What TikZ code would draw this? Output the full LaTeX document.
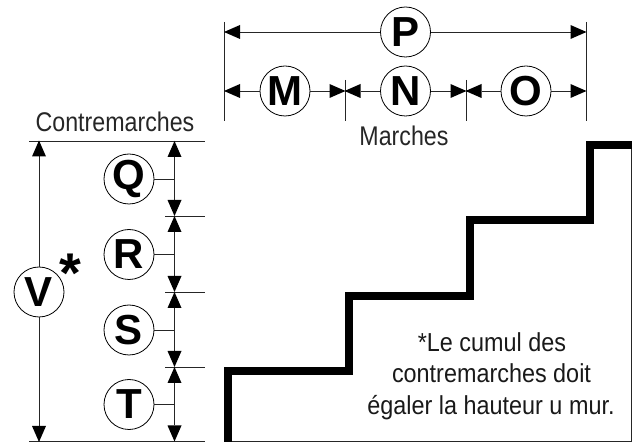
\documentclass[tikz,border=0pt]{standalone}
\usepackage{fontspec}
\setmainfont{Liberation Sans}
\newfontfamily\narrowfont[FakeStretch=0.86]{Liberation Sans}
\newfontfamily\notefont[FakeStretch=0.9]{Liberation Sans}
\usetikzlibrary{arrows.meta}
\tikzset{
  x=1pt,y=-1pt,
  thin line/.style={line width=0.9pt,draw=black!85},
  dim/.style={thin line,arrows={-{Triangle[length=16pt,width=14pt,fill=black,line width=0pt]}},shorten >=-0.5pt},
  dimboth/.style={thin line,arrows={{Triangle[length=16pt,width=14pt,fill=black,line width=0pt]}-{Triangle[length=16pt,width=14pt,fill=black,line width=0pt]}}},
  bubble/.style={circle,draw=black,line width=0.8pt,fill=white,minimum size=50pt,inner sep=0pt,font=\fontsize{42}{42}\selectfont\bfseries},
  caption/.style={font=\narrowfont\fontsize{27}{27}\selectfont,text=black!85,inner sep=0pt},
  note/.style={font=\notefont\fontsize{26}{26}\selectfont,text=black!90,inner sep=0pt,anchor=base},
}
\begin{document}
\begin{tikzpicture}
\useasboundingbox (0,0) rectangle (638,446);
% coordinates of the top dimensions
\coordinate (a1) at (224.5,22); \coordinate (a2) at (224.5,121);
\coordinate (b1) at (345,80);   \coordinate (b2) at (345,121);
\coordinate (c1) at (466,80);   \coordinate (c2) at (466,121);
\coordinate (d1) at (586,22);   \coordinate (d2) at (586,121);
\draw[thin line] (a1) -- (a2);
\draw[thin line] (b1) -- (b2);
\draw[thin line] (c1) -- (c2);
\draw[thin line] (d1) -- (d2);
\node[bubble] (P) at (405.5,32) {P};
\node[bubble] (M) at (285,91) {M};
\node[bubble] (N) at (405.5,91) {N};
\node[bubble] (O) at (526,91) {O};
\draw[dim] (P.west) -- (P.west -| a1);
\draw[dim] (P.east) -- (P.east -| d1);
\draw[dim] (M.west) -- (M.west -| a1);
\draw[dim] (M.east) -- (M.east -| b1);
\draw[dim] (N.west) -- (N.west -| b1);
\draw[dim] (N.east) -- (N.east -| c1);
\draw[dim] (O.west) -- (O.west -| c1);
\draw[dim] (O.east) -- (O.east -| d1);
\node[caption] (marches) at (404,136) {Marches};
\node[caption] (contre) at (115,122) {Contremarches};
% level lines
\coordinate (l0a) at (29,141);  \coordinate (l0b) at (205,141);
\coordinate (l1a) at (165,216); \coordinate (l1b) at (205,216);
\coordinate (l2a) at (165,292); \coordinate (l2b) at (205,292);
\coordinate (l3a) at (165,367); \coordinate (l3b) at (205,367);
\coordinate (l4a) at (29,441.5);  \coordinate (l4b) at (205,441.5);
\draw[thin line] (l0a) -- (l0b);
\draw[thin line] (l1a) -- (l1b);
\draw[thin line] (l2a) -- (l2b);
\draw[thin line] (l3a) -- (l3b);
\draw[thin line] (l4a) -- (l4b);
\coordinate (r0) at (174.5,141);
\coordinate (r1) at (174.5,216);
\coordinate (r2) at (174.5,292);
\coordinate (r3) at (174.5,367);
\coordinate (r4) at (174.5,441.5);
\draw[dimboth] (r0) -- (r1);
\draw[dimboth] (r1) -- (r2);
\draw[dimboth] (r2) -- (r3);
\draw[dimboth] (r3) -- (r4);
\node[bubble] (Q) at (129,179) {Q};
\node[bubble] (R) at (129,254.5) {R};
\node[bubble] (S) at (129,330) {S};
\node[bubble] (T) at (129,404.5) {T};
\draw[thin line] (Q.east) -- (Q.east -| r0);
\draw[thin line] (R.east) -- (R.east -| r0);
\draw[thin line] (S.east) -- (S.east -| r0);
\draw[thin line] (T.east) -- (T.east -| r0);
\node[bubble] (V) at (39,292) {V};
\node[font=\fontsize{56}{56}\selectfont\bfseries,inner sep=0pt] (star) at (70,273) {*};
\draw[dim] (V.north) -- (V.north |- l0a);
\draw[dim] (V.south) -- (V.south |- l4a);
% wall outline
\draw[thin line] (228,441.5) -- (631.5,441.5) -- (631.5,146);
% staircase
\draw[line width=8pt,miter limit=10] (228,442) -- (228,371.3) -- (349,371.3) -- (349,295.7) -- (469.7,295.7) -- (469.7,220.3) -- (590,220.3) -- (590,145) -- (632,145);
% note
\node[note] (n1) at (492,351.7) {*Le cumul des};
\node[note] (n2) at (491.5,383) {contremarches doit};
\node[note] (n3) at (491,415) {égaler la hauteur u mur.};
\end{tikzpicture}
\end{document}
